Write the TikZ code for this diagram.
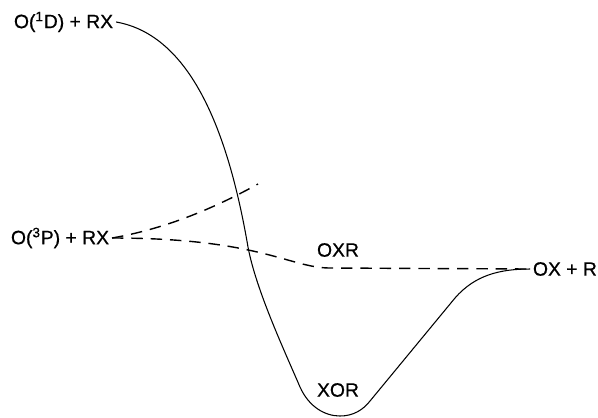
\documentclass[tikz,border=0pt]{standalone}
\usepackage{fontspec}
\setmainfont{Liberation Sans}
\newfontfamily\lblfont[FakeBold=0.7]{Liberation Sans}
\tikzset{
    lbl/.style={inner sep=1.5pt, font=\lblfont\fontsize{11}{13}\selectfont},
    surf/.style={line width=0.6pt},
    dsurf/.style={line width=0.8pt, dash pattern=on 6.5pt off 4.5pt},
}

\begin{document}
\begin{tikzpicture}[x=0.02cm, y=-0.02cm]
    \useasboundingbox (0,0) rectangle (598,417);

    % Labels
    \node[lbl, anchor=west] (od)  at (11,22)  {O(\textsuperscript{1}D) + RX};
    \node[lbl, anchor=west] (op)  at (8,238)  {O(\textsuperscript{3}P) + RX};
    \node[lbl, anchor=west] (oxr) at (530,269) {OX + R};
    \node[lbl] (oxrmin) at (338,250) {OXR};
    \node[lbl] (xormin) at (338,390) {XOR};

    % Points on the curves
    \coordinate (cross) at (248,247);
    \coordinate (v1) at (300,387);
    \coordinate (bot) at (340,416);
    \coordinate (v2) at (370,401);
    \coordinate (v3) at (455,298);
    \coordinate (top) at (258,184);
    \coordinate (flat) at (330,268);

    % Singlet surface
    \draw[surf] (od.east) .. controls (190,35) and (228,130) .. (cross)
        .. controls (256,290) and (285,352) .. (v1)
        .. controls (309,407) and (325,416) .. (bot)
        .. controls (353,416) and (363,410) .. (v2)
        -- (v3)
        .. controls (475,275) and (500,269) .. (oxr.west);

    % Triplet surfaces
    \draw[dsurf] (op.east) .. controls (170,228) and (220,205) .. (top);
    \draw[dsurf] (op.east) .. controls (260,238) and (290,268) .. (flat) -- (oxr.west);

\end{tikzpicture}
\end{document}
